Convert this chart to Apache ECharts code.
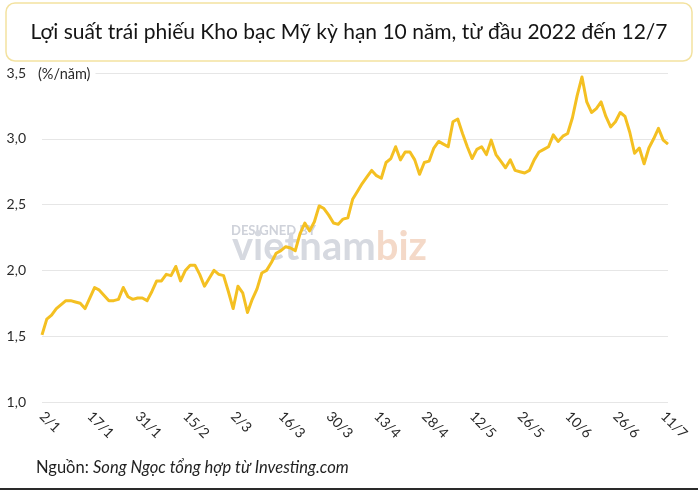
<!DOCTYPE html>
<html>
<head>
<meta charset="utf-8">
<script src="https://cdn.jsdelivr.net/npm/echarts@6/dist/echarts.min.js"></script>
<style>
  html, body { margin: 0; padding: 0; background: #fff; }
  #chart { width: 698px; height: 490px; }
</style>
</head>
<body>
<div id="chart"></div>
<script>
const titleText = 'Lợi suất trái phiếu Kho bạc Mỹ kỳ hạn 10 năm, từ đầu 2022 đến 12/7';
const unitLabel = '(%/năm)';
const sourceLabel = 'Nguồn: ';
const sourceText = 'Song Ngọc tổng hợp từ Investing.com';

const categories = [
  '2/1','4/1','5/1','6/1','7/1','10/1','11/1','12/1','13/1','14/1',
  '17/1','18/1','19/1','20/1','21/1','24/1','25/1','26/1','27/1','28/1',
  '31/1','1/2','2/2','3/2','4/2','7/2','8/2','9/2','10/2','11/2',
  '15/2','16/2','17/2','18/2','22/2','23/2','24/2','25/2','28/2','1/3',
  '2/3','3/3','4/3','7/3','8/3','9/3','10/3','11/3','14/3','15/3',
  '16/3','17/3','18/3','21/3','22/3','23/3','24/3','25/3','28/3','29/3',
  '30/3','31/3','1/4','4/4','5/4','6/4','7/4','8/4','11/4','12/4',
  '13/4','14/4','18/4','19/4','20/4','21/4','22/4','25/4','26/4','27/4',
  '28/4','29/4','2/5','3/5','4/5','5/5','6/5','9/5','10/5','11/5',
  '12/5','13/5','16/5','17/5','18/5','19/5','20/5','23/5','24/5','25/5',
  '26/5','27/5','31/5','1/6','2/6','3/6','6/6','7/6','8/6','9/6',
  '10/6','13/6','14/6','15/6','16/6','17/6','21/6','22/6','23/6','24/6',
  '26/6','27/6','28/6','29/6','30/6','1/7','5/7','6/7','7/7','8/7',
  '11/7','12/7'
];

const yields = [
  1.51,1.63,1.66,1.71,1.74,1.77,1.77,1.76,1.75,1.71,
  1.79,1.87,1.85,1.81,1.77,1.77,1.78,1.87,1.80,1.78,
  1.79,1.79,1.77,1.84,1.92,1.92,1.97,1.96,2.03,1.92,
  2.00,2.04,2.04,1.97,1.88,1.94,2.00,1.97,1.96,1.84,
  1.71,1.88,1.83,1.68,1.78,1.86,1.98,2.00,2.06,2.13,
  2.15,2.18,2.17,2.15,2.28,2.36,2.30,2.37,2.49,2.47,
  2.42,2.36,2.35,2.39,2.40,2.54,2.60,2.66,2.71,2.76,
  2.72,2.70,2.82,2.85,2.94,2.84,2.90,2.90,2.84,2.73,
  2.82,2.83,2.93,2.98,2.96,2.94,3.13,3.15,3.04,2.94,
  2.85,2.92,2.94,2.88,2.99,2.88,2.83,2.78,2.84,2.76,
  2.75,2.74,2.76,2.84,2.90,2.92,2.94,3.03,2.98,3.02,
  3.04,3.16,3.33,3.47,3.28,3.20,3.23,3.28,3.17,3.09,
  3.13,3.20,3.17,3.05,2.89,2.93,2.81,2.93,3.00,3.08,
  2.99,2.96
];

const yMin = 1.0, yMax = 3.5, yStep = 0.5;

const chart = echarts.init(document.getElementById('chart'), null, { renderer: 'canvas' });
const FONT = 'Lato, "Noto Sans", sans-serif';

chart.setOption({
  animation: false,
  backgroundColor: '#ffffff',
  textStyle: { fontFamily: FONT },
  grid: { left: 42, right: 30, top: 73, bottom: 88, containLabel: false },
  xAxis: {
    type: 'category',
    data: categories,
    boundaryGap: false,
    axisLine: { show: false },
    axisTick: { show: false },
    splitLine: { show: false },
    axisLabel: {
      interval: 9,
      rotate: -45,
      margin: 12,
      color: '#2a2a2a',
      fontSize: 14,
      fontFamily: FONT
    }
  },
  yAxis: {
    type: 'value',
    min: yMin,
    max: yMax,
    interval: yStep,
    axisLine: { show: false },
    axisTick: { show: false },
    splitLine: { lineStyle: { color: '#e6e6e6', width: 1 } },
    axisLabel: {
      color: '#2a2a2a',
      fontSize: 14,
      fontFamily: FONT,
      margin: 16,
      formatter: v => v.toFixed(1).replace('.', ',')
    }
  },
  graphic: [
    {
      type: 'rect', z: 0,
      shape: { x: 6, y: 3, width: 686, height: 58, r: 9 },
      style: { fill: '#ffffff', stroke: '#f3e2a0', lineWidth: 1.5 }
    },
    {
      type: 'text', z: 1,
      x: 349, y: 32,
      style: {
        text: titleText, fill: '#141414',
        font: '21px ' + FONT, textAlign: 'center', textVerticalAlign: 'middle'
      }
    },
    {
      type: 'text', z: 5,
      x: 36, y: 74,
      style: {
        text: unitLabel, fill: '#2a2a2a', font: '14.5px ' + FONT,
        textVerticalAlign: 'middle', backgroundColor: '#fff', padding: [2, 5, 2, 2]
      }
    },
    {
      type: 'text', z: 0,
      x: 231, y: 231,
      style: {
        text: 'DESIGNED BY', fill: '#cfd2da', font: 'bold 13px ' + FONT,
        textVerticalAlign: 'middle'
      }
    },
    {
      type: 'text', z: 0,
      x: 232, y: 247,
      style: {
        rich: {
          a: { fill: '#d6d9e0', font: 'bold 40px ' + FONT },
          b: { fill: '#f4d9c8', font: 'bold 40px ' + FONT }
        },
        text: '{a|vietnam}{b|biz}',
        textVerticalAlign: 'middle'
      }
    },
    {
      type: 'text', z: 1,
      x: 36, y: 468,
      style: {
        rich: {
          n: { fill: '#1f1f1f', font: '16.5px ' + FONT },
          i: { fill: '#1f1f1f', font: 'italic 16.5px ' + FONT }
        },
        text: '{n|' + sourceLabel + '}{i|' + sourceText + '}',
        textVerticalAlign: 'middle'
      }
    },
    {
      type: 'rect', z: 1,
      shape: { x: 0, y: 488, width: 698, height: 2 },
      style: { fill: '#2a2a2a' }
    }
  ],
  series: [{
    type: 'line',
    data: yields,
    symbol: 'none',
    smooth: false,
    z: 3,
    lineStyle: { color: '#F4C022', width: 3, join: 'round' }
  }]
});
</script>
</body>
</html>
